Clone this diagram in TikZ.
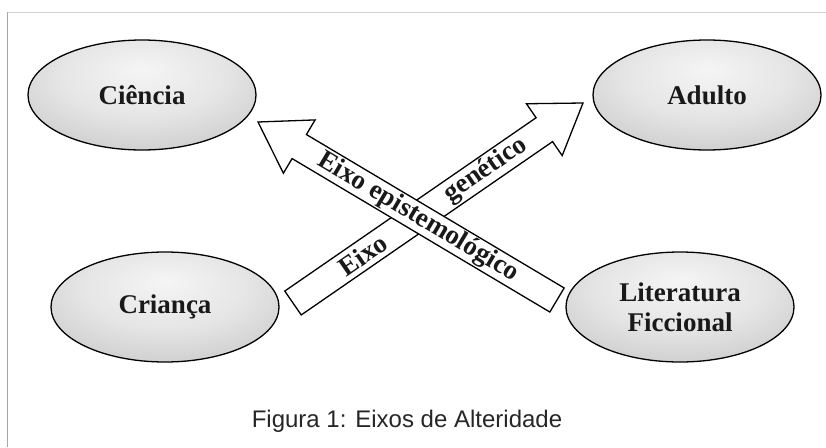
\documentclass[tikz,border=0pt]{standalone}
\usepackage{fontspec}
\setmainfont{Liberation Serif}
\newfontfamily\capfont{Liberation Sans}
\usetikzlibrary{calc}
\pgfdeclareradialshading{ellshade}{\pgfpoint{0bp}{12bp}}{color(0bp)=(black!4); color(18bp)=(black!10); color(34bp)=(black!20); color(44bp)=(black!32); color(52bp)=(black!50); color(62bp)=(black!62)}
\tikzset{
  bubble/.style={ellipse, draw=black, line width=1.3pt, shading=ellshade,
    minimum width=228pt, minimum height=110pt, inner sep=0pt,
    font=\fontsize{27}{30}\selectfont\bfseries, align=center, text=black!90},
  blockarrow/.style={draw=black, line width=1.3pt, fill=white, line join=miter},
  axislabel/.style={font=\fontsize{27}{30}\selectfont\bfseries, inner sep=0pt, text=black!90},
  frameline/.style={line width=0.8pt}
}
\usetikzlibrary{shapes.geometric}
\begin{document}
\begin{tikzpicture}[x=1pt,y=-1pt]
\useasboundingbox (0,0) rectangle (826,447);
% frame
\coordinate (fa) at (7,12);
\coordinate (fb) at (826,12);
\coordinate (fc) at (7,447);
\draw[frameline, black!18] (fa) -- (fb);
\draw[frameline, black!35] (fa) -- (fc);
% ellipses
\node[bubble] (ciencia) at (142,95) {Ciência};
\node[bubble] (adulto) at (707,95) {Adulto};
\node[bubble] (crianca) at (165,307) {Criança};
\node[bubble] (lit) at (680,307) {Literatura\\Ficcional};
% genetic arrow (below)
\coordinate (Tg) at (293,303);
\coordinate (Pg) at (583,103);
\coordinate (Bg) at ($(Pg)!47pt!(Tg)$);
\draw[blockarrow] ($(Tg)!14.5pt!90:(Pg)$) -- ($(Bg)!14.5pt!-90:(Tg)$) -- ($(Bg)!31.5pt!-90:(Tg)$) -- (Pg)
  -- ($(Bg)!31.5pt!90:(Tg)$) -- ($(Bg)!14.5pt!90:(Tg)$) -- ($(Tg)!14.5pt!-90:(Pg)$) -- cycle;
% epistemological arrow (on top)
\coordinate (Te) at (557,300);
\coordinate (Pe) at (258,122);
\coordinate (Be) at ($(Pe)!48pt!(Te)$);
\draw[blockarrow] ($(Te)!14pt!90:(Pe)$) -- ($(Be)!14pt!-90:(Te)$) -- ($(Be)!31pt!-90:(Te)$) -- (Pe)
  -- ($(Be)!31pt!90:(Te)$) -- ($(Be)!14pt!90:(Te)$) -- ($(Te)!14pt!-90:(Pe)$) -- cycle;
% labels
\node[axislabel, rotate=-30.8] (lepi) at ($(Te)!0.465!(Pe)$) {Eixo epistemológico};
\node[axislabel, rotate=34.6] (lgen1) at ($(Tg)!0.241!(Pg)$) {Eixo};
\node[axislabel, rotate=34.6] (lgen2) at ($(Tg)!0.665!(Pg)$) {genético};
% caption
\node[font=\capfont\fontsize{24}{28}\selectfont, text=black!85] (cap) at (407,421) {Figura 1: Eixos de Alteridade};
\end{tikzpicture}
\end{document}
